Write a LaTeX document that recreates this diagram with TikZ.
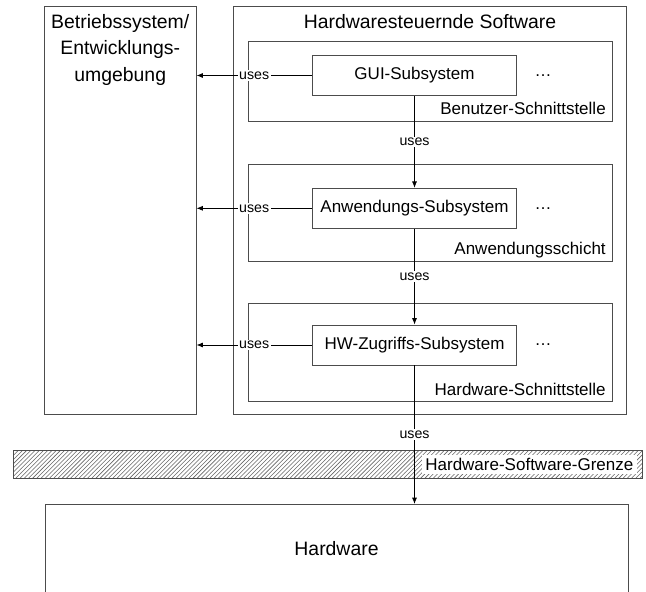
\documentclass[tikz,border=0pt]{standalone}
\usepackage{fontspec}
\setmainfont{Liberation Sans}
\usetikzlibrary{patterns,arrows.meta}
\tikzset{
  frame/.style={draw=black!70, line width=0.7pt},
  bigtext/.style={font=\fontsize{13.8}{18.8}\selectfont},
  subsys/.style={frame, minimum width=5.11cm, minimum height=1cm},
  layertext/.style={anchor=base east, inner sep=0pt},
  uses/.style={-{Latex[length=4.5pt,width=3.5pt]}, line width=0.5pt},
  useslabel/.style={midway, fill=white, inner sep=1pt, font=\fontsize{10.1}{12}\selectfont}
}

\begin{document}
\begin{tikzpicture}[font=\fontsize{12.1}{14.5}\selectfont]
			%%%%% START %%%%%
			\useasboundingbox (0, 0) rectangle (16.15, 14.775);
			
			\node[frame, minimum width=3.7875cm, minimum height=10.2cm] (os) at (3.006, 9.525) {};
			\node[bigtext, anchor=north, inner sep=0pt, align=center] (oslabel) at (3.006, 14.42) {Betriebssystem/\\Entwicklungs-\\umgebung};
			
			\draw[frame] (5.8375, 14.6125) rectangle (15.6675, 4.425);
			\node[bigtext, anchor=north, inner sep=0pt] (swlabel) at (10.75, 14.42) {Hardwaresteuernde Software};
			
			\draw[frame] (6.2075, 13.7325) rectangle (15.3075, 11.75);
			\node[layertext] (uilabel) at (15.15, 11.92) {Benutzer-Schnittstelle};
			\node[subsys] (gui) at (10.3625, 12.8875) {GUI-Subsystem};
			\node (guidots) at (13.575, 12.8875) {\ldots};
			
			\draw[frame] (6.2075, 10.675) rectangle (15.3075, 8.25);
			\node[layertext] (applabel) at (15.15, 8.42) {Anwendungsschicht};
			\node[subsys] (anw) at (10.3625, 9.5675) {Anwendungs-Subsystem};
			\node (anwdots) at (13.575, 9.5675) {\ldots};
			
			\draw[frame] (6.2075, 7.1925) rectangle (15.3075, 4.7325);
			\node[layertext] (hwlabel) at (15.15, 4.90) {Hardware-Schnittstelle};
			\node[subsys] (hwz) at (10.3625, 6.15) {HW-Zugriffs-Subsystem};
			\node (hwzdots) at (13.575, 6.15) {\ldots};
			
			\draw[frame, pattern=north east lines, pattern color=black!60] (0.3325, 3.5075) rectangle (16.0675, 2.8175);
			\node[fill=white, inner sep=0.08cm, anchor=east] (grenze) at (15.92, 3.1625) {Hardware-Software-Grenze};
			
			\node[frame, bigtext, minimum width=14.575cm, minimum height=2.2cm, anchor=north] (hw) at (8.4125, 2.175) {Hardware};
			
			\draw[uses] (gui) -- node[useslabel] {uses} (anw);
			\draw[uses] (anw) -- node[useslabel] {uses} (hwz);
			\draw[uses] (hwz) -- node[useslabel] {uses} (hwz |- hw.north);
			
			\draw[uses] (gui) -- node[useslabel] {uses} (gui -| os.east);
			\draw[uses] (anw) -- node[useslabel] {uses} (anw -| os.east);
			\draw[uses] (hwz) -- node[useslabel] {uses} (hwz -| os.east);
			%%%%% END %%%%%
\end{tikzpicture}
\end{document}
